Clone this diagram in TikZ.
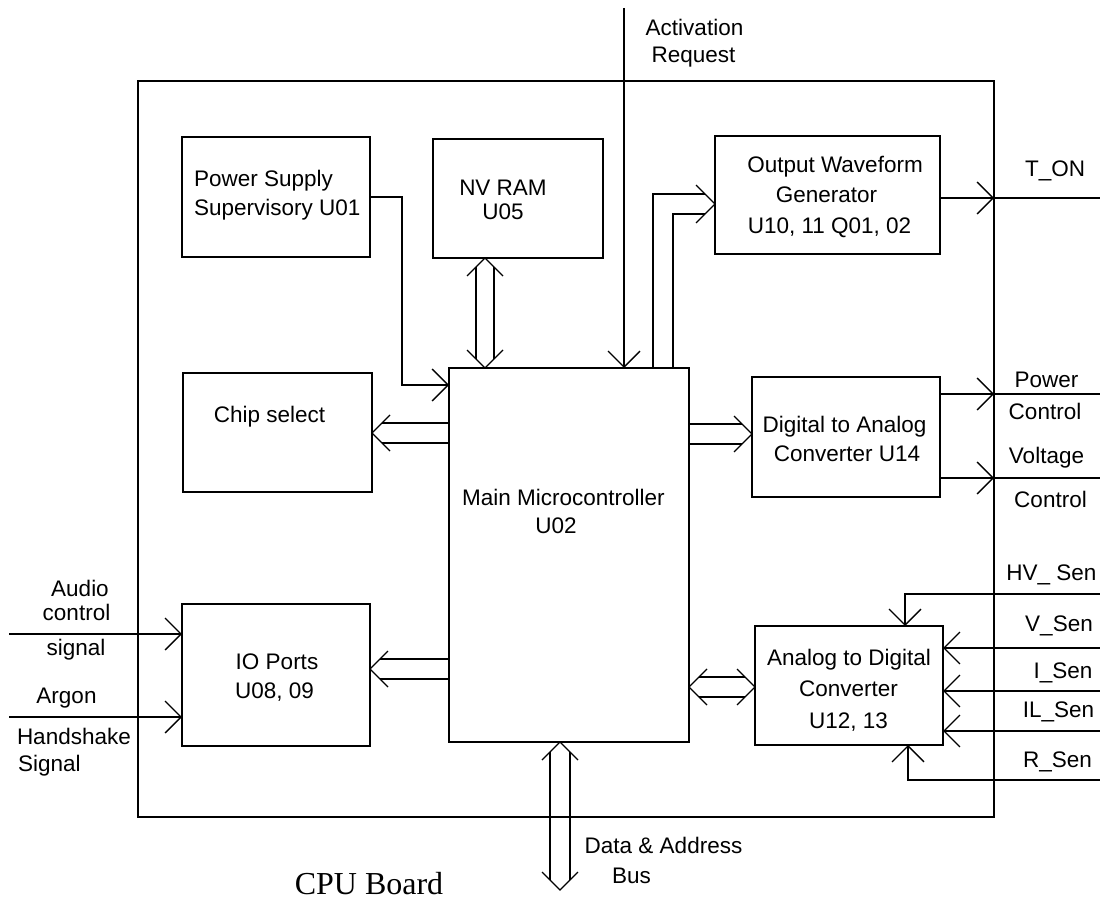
\documentclass[tikz,border=0pt]{standalone}
\usepackage{fontspec}
\setmainfont{Liberation Sans}
\newfontfamily\serifcpu{Liberation Serif}
\usetikzlibrary{arrows.meta,calc}
\begin{document}
\begin{tikzpicture}[x=1pt,y=-1pt, line width=1.3pt,
  blk/.style={draw, inner sep=0pt, outer sep=0pt},
  lbl/.style={inner sep=0pt, outer sep=0pt, anchor=base, font=\fontsize{22.5}{27}\selectfont},
  lblw/.style={lbl, anchor=base west},
  arr/.style={-{Straight Barb[length=16pt,width=32pt]}},
]
\useasboundingbox (0,0) rectangle (1100,899);

% ---------- boxes ----------
\node[blk, minimum width=856pt, minimum height=736pt] (cpu) at (566,449) {};
\node[blk, minimum width=188pt, minimum height=120pt] (ps) at (276,197) {};
\node[blk, minimum width=170pt, minimum height=119pt] (nv) at (518,198.5) {};
\node[blk, minimum width=225pt, minimum height=118pt] (ow) at (827.5,195) {};
\node[blk, minimum width=189pt, minimum height=119pt] (cs) at (277.5,432.5) {};
\node[blk, minimum width=240pt, minimum height=374pt] (main) at (569,555) {};
\node[blk, minimum width=188pt, minimum height=120pt] (dac) at (846,437) {};
\node[blk, minimum width=188pt, minimum height=142pt] (io) at (276,675) {};
\node[blk, minimum width=188pt, minimum height=119pt] (adc) at (849,685.5) {};

% ---------- texts ----------
\node[lblw] (tps1) at (194,186) {Power Supply};
\node[lblw] (tps2) at (194,215) {Supervisory U01};
\node[lbl] (tnv1) at (503,195) {NV RAM};
\node[lbl] (tnv2) at (503,219) {U05};
\node[lbl] (tact1) at (694.5,36) {Activation};
\node[lbl] (tact2) at (693.5,63) {Request};
\node[lbl] (tow1) at (835,172) {Output Waveform};
\node[lbl] (tow2) at (826.5,202) {Generator};
\node[lbl] (tow3) at (829.5,233) {U10, 11 Q01, 02};
\node[lbl] (tton) at (1055,176) {T\_ON};
\node[lbl] (tcs) at (269.5,422) {Chip select};
\node[lbl] (tdac1) at (844.5,432) {Digital to Analog};
\node[lbl] (tdac2) at (847,461) {Converter U14};
\node[lbl] (tpc1) at (1046.5,387) {Power};
\node[lbl] (tpc2) at (1045,419) {Control};
\node[lbl] (tvc1) at (1046.5,463) {Voltage};
\node[lbl] (tvc2) at (1050.5,507) {Control};
\node[lbl] (tmain1) at (563.5,505) {Main Microcontroller};
\node[lbl] (tmain2) at (556,533) {U02};
\node[lbl] (thv) at (1051.5,580) {HV\_ Sen};
\node[lbl] (tvs) at (1059,631) {V\_Sen};
\node[lbl] (tis) at (1063,678) {I\_Sen};
\node[lbl] (tils) at (1058.5,717) {IL\_Sen};
\node[lbl] (trs) at (1057.5,767) {R\_Sen};
\node[lbl] (tau1) at (80,596) {Audio};
\node[lbl] (tau2) at (76.5,620) {control};
\node[lbl] (tau3) at (76,655) {signal};
\node[lbl] (tar1) at (66.5,703) {Argon};
\node[lblw] (tar2) at (17,744) {Handshake};
\node[lblw] (tar3) at (18,771) {Signal};
\node[lbl] (tio1) at (277,669) {IO Ports};
\node[lbl] (tio2) at (274.5,698) {U08, 09};
\node[lbl] (tadc1) at (849,665) {Analog to Digital};
\node[lbl] (tadc2) at (848.5,696) {Converter};
\node[lbl] (tadc3) at (848.5,728) {U12, 13};
\node[lbl] (tbus1) at (663.5,853) {Data \& Address};
\node[lbl] (tbus2) at (631.5,883) {Bus};
\node[anchor=base, inner sep=0pt, font=\serifcpu\fontsize{32}{38}\selectfont] (tcpu) at (369,894) {CPU Board};

% ---------- single connectors ----------
\coordinate (actTop) at (624,8);
\draw[arr] (actTop) -- (actTop |- main.north);

\draw[arr] (ps.east |- 0,197) -| (402,385) -- (main.west |- 0,385);

\coordinate (ton) at (1100,198);
\draw[arr] (ow.east |- ton) -- (cpu.east |- ton);
\draw (cpu.east |- ton) -- (ton);

\coordinate (pwr) at (1100,394);
\draw[arr] (dac.east |- pwr) -- (cpu.east |- pwr);
\draw (cpu.east |- pwr) -- (pwr);
\coordinate (volt) at (1100,478);
\draw[arr] (dac.east |- volt) -- (cpu.east |- volt);
\draw (cpu.east |- volt) -- (volt);

\coordinate (aud) at (9,634);
\draw[arr] (aud) -- (io.west |- aud);
\coordinate (arg) at (9,717);
\draw[arr] (arg) -- (io.west |- arg);

\coordinate (hvs) at (1100,594);
\draw[arr] (hvs) -| (905,0 |- adc.north);
\coordinate (vs) at (1100,648);
\draw[arr] (vs) -- (adc.east |- vs);
\coordinate (is) at (1100,691);
\draw[arr] (is) -- (adc.east |- is);
\coordinate (ils) at (1100,731);
\draw[arr] (ils) -- (adc.east |- ils);
\coordinate (rs) at (1100,780);
\draw[arr] (rs) -| (908,0 |- adc.south);

% ---------- double (bus) connectors ----------
% NV RAM <-> Main
\coordinate (nvA) at (485,0 |- nv.south);
\coordinate (nvB) at (485,0 |- main.north);
\draw (nvA) ++(-18,18) -- (nvA) -- ++(18,18);
\draw (nvB) ++(-18,-18) -- (nvB) -- ++(18,-18);
\draw ($(nvA)+(-9,9)$) -- ($(nvB)+(-9,-9)$);
\draw ($(nvA)+(9,9)$) -- ($(nvB)+(9,-9)$);

% Main -> Output Waveform
\coordinate (owA) at (ow.west |- 0,204);
\draw (owA) ++(-19,-19) -- (owA) -- ++(-19,19);
\draw (653,0 |- main.north) |- ($(owA)+(-10,-10)$);
\draw (673,0 |- main.north) |- ($(owA)+(-10,10)$);

% Main -> Chip select
\coordinate (csA) at (cs.east |- 0,433);
\draw (csA) ++(18,-18) -- (csA) -- ++(18,18);
\draw ($(csA)+(10,-10)$) -- (main.west |- 0,423);
\draw ($(csA)+(10,10)$) -- (main.west |- 0,443);

% Main -> DAC
\coordinate (dacA) at (dac.west |- 0,434);
\draw (dacA) ++(-18,-18) -- (dacA) -- ++(-18,18);
\draw (main.east |- 0,424) -- ($(dacA)+(-10,-10)$);
\draw (main.east |- 0,444) -- ($(dacA)+(-10,10)$);

% Main -> IO ports
\coordinate (ioA) at (io.east |- 0,669);
\draw (ioA) ++(18,-18) -- (ioA) -- ++(18,18);
\draw ($(ioA)+(10,-10)$) -- (main.west |- 0,659);
\draw ($(ioA)+(10,10)$) -- (main.west |- 0,679);

% Main <-> ADC
\coordinate (adA) at (main.east |- 0,687);
\coordinate (adB) at (adc.west |- 0,687);
\draw (adA) ++(18,-18) -- (adA) -- ++(18,18);
\draw (adB) ++(-18,-18) -- (adB) -- ++(-18,18);
\draw ($(adA)+(10,-10)$) -- ($(adB)+(-10,-10)$);
\draw ($(adA)+(10,10)$) -- ($(adB)+(-10,10)$);

% Data & Address bus
\coordinate (busA) at (560,0 |- main.south);
\coordinate (busB) at (560,890);
\draw (busA) ++(-18,18) -- (busA) -- ++(18,18);
\draw (busB) ++(-18,-18) -- (busB) -- ++(18,-18);
\draw ($(busA)+(-10,10)$) -- ($(busB)+(-10,-10)$);
\draw ($(busA)+(10,10)$) -- ($(busB)+(10,-10)$);
\end{tikzpicture}
\end{document}
